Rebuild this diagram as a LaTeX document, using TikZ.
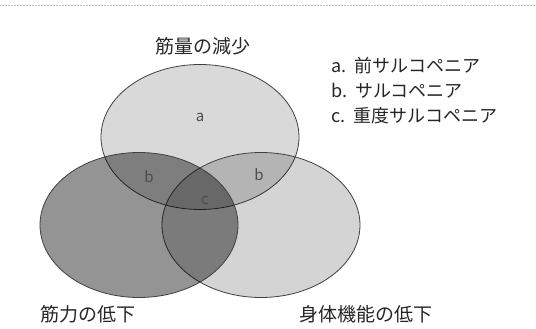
\documentclass[tikz,border=0pt]{standalone}
\usepackage{fontspec}
\newfontfamily\jp{Noto Sans CJK JP}
\usetikzlibrary{shapes.geometric}
\begin{document}
\begin{tikzpicture}[x=1pt,y=-1pt,
  venn/.style={ellipse, draw=black!75, line width=0.8pt, inner sep=0pt,
    minimum width=198pt, minimum height=145pt, fill=black},
  lbl/.style={font=\jp\fontsize{19}{19}\selectfont, text=black!85, inner sep=0pt},
  leg/.style={font=\jp\fontsize{18}{18}\selectfont, text=black!85, inner sep=0pt, anchor=west},
  vmark/.style={font=\jp\fontsize{15}{15}\selectfont, text=black!70, inner sep=0pt}]
\useasboundingbox (0,0) rectangle (536,329);
\draw[black!25, densely dotted, line width=0.5pt] (0,5) -- (536,5);
\node[venn, fill opacity=0.15] (top) at (200,137) {};
\node[venn, fill opacity=0.17] (right) at (261,225) {};
\node[venn, fill opacity=0.42] (left) at (139,225) {};
\node[vmark] (ma) at (200,117) {a};
\node[vmark] (mb1) at (149,177) {b};
\node[vmark] (mb2) at (259,175) {b};
\node[vmark] (mc) at (205,200) {c};
\node[lbl] (t1) at (203,46) {筋量の減少};
\node[lbl] (t2) at (88,314) {筋力の低下};
\node[lbl] (t3) at (366,314) {身体機能の低下};
\node[leg] (l1) at (331,66) {a.\ \ 前サルコペニア};
\node[leg] (l2) at (331,91) {b.\ \ サルコペニア};
\node[leg] (l3) at (331,116) {c.\ \ 重度サルコペニア};
\end{tikzpicture}
\end{document}
